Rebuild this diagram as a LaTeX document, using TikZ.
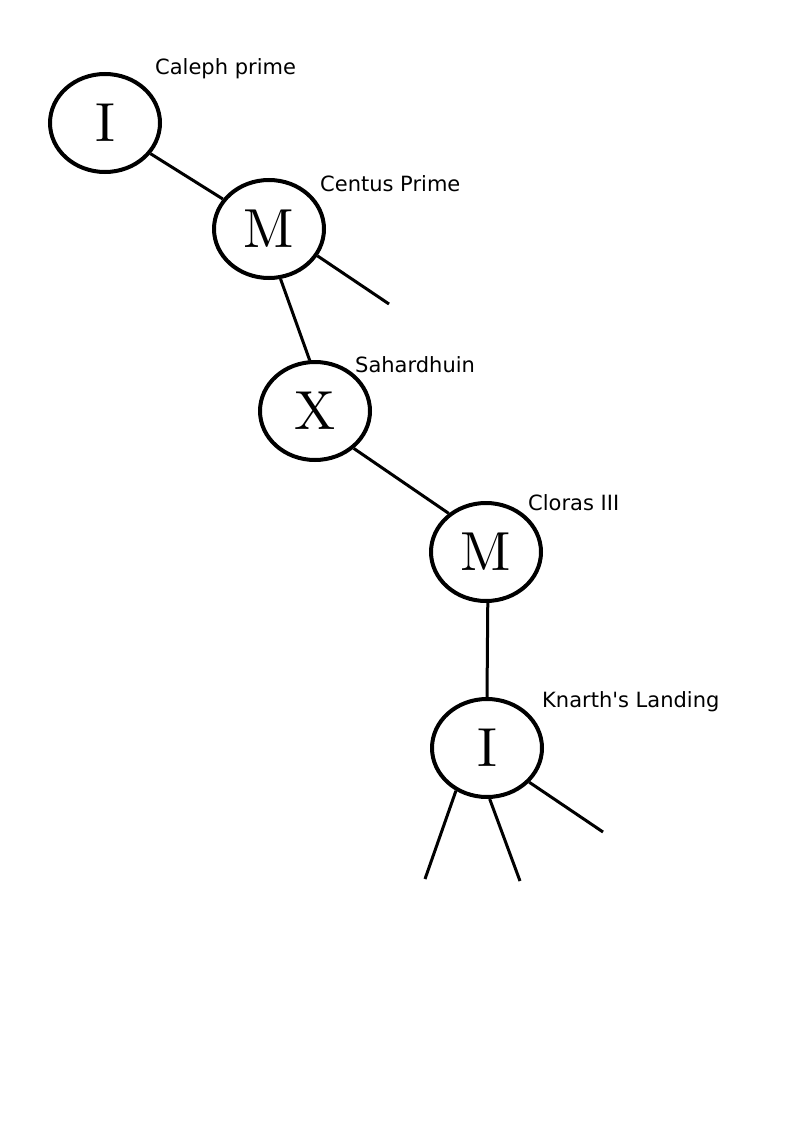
\documentclass[tikz,border=0pt]{standalone}
\usepackage{fontspec}
\newfontfamily\labelfont{DejaVu Sans}
\newfontfamily\nodefont{lmroman10-regular.otf}
\usetikzlibrary{shapes.geometric}
\tikzset{
  planet/.style={draw, line width=4pt, ellipse, minimum width=110pt, minimum height=98pt, inner sep=0pt, font=\nodefont\fontsize{55}{55}\selectfont},
  name label/.style={anchor=base west, inner sep=0pt, font=\labelfont\fontsize{21}{21}\selectfont},
  link/.style={line width=3pt}
}
\begin{document}
\begin{tikzpicture}[x=1pt,y=-1pt]
\useasboundingbox (0,0) rectangle (794,1123);
\node[planet] (n1) at (105,123) {I};
\node[planet] (n2) at (269,229) {M};
\node[planet] (n3) at (315,411) {X};
\node[planet] (n4) at (486,552) {M};
\node[planet] (n5) at (487,748) {I};
\node[name label] (l1) at (155,75) {Caleph prime};
\node[name label] (l2) at (320,192) {Centus Prime};
\node[name label] (l3) at (355,372) {Sahardhuin};
\node[name label] (l4) at (528,510) {Cloras III};
\node[name label] (l5) at (542,707) {Knarth's Landing};
\coordinate (e2) at (389,304);
\coordinate (e5a) at (425,879);
\coordinate (e5b) at (520,881);
\coordinate (e5c) at (603,832);
\draw[link] (n1.326) -- (n2.147);
\draw[link] (n2.331) -- (e2);
\draw[link] (n2.283) -- (n3.96);
\draw[link] (n3.316) -- (n4.134);
\draw[link] (n4.272) -- (n5.90);
\draw[link] (n5.234) -- (e5a);
\draw[link] (n5.273) -- (e5b);
\draw[link] (n5.321) -- (e5c);
\end{tikzpicture}
\end{document}
